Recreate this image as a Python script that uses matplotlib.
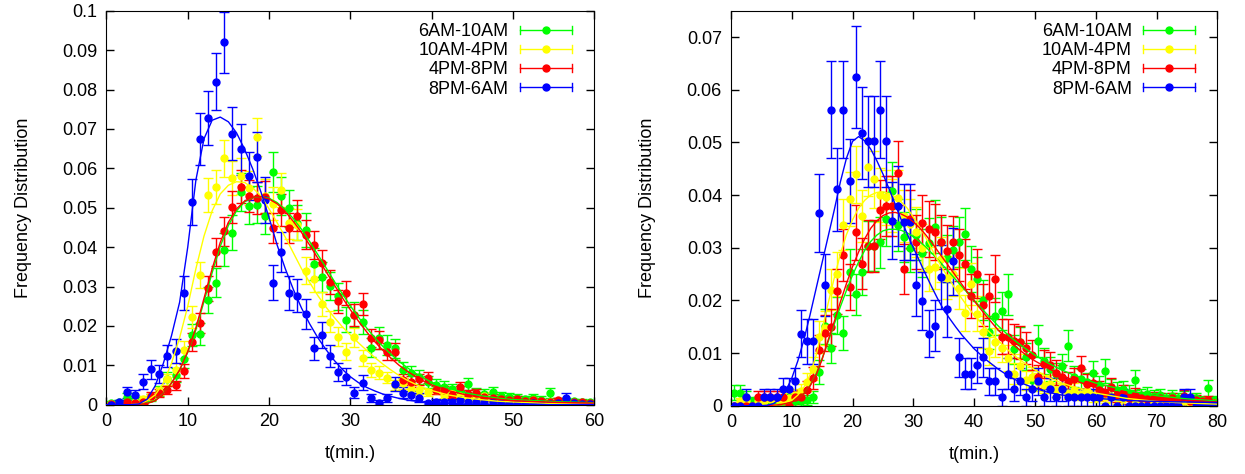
import numpy as np
import matplotlib
matplotlib.use("Agg")
import matplotlib.pyplot as plt
from matplotlib.lines import Line2D
from matplotlib.legend_handler import HandlerBase

# ── Data (all frequencies in units of 1e-4) ──────────────────────────────────
labels = ["6AM-10AM", "10AM-4PM", "4PM-8PM", "8PM-6AM"]
colors = ["#00ff00", "#ffff00", "#ff0000", "#0000ff"]

# left panel: 1-min bins centred on 0.5 ... 59.5
t_left = np.arange(60) + 0.5
green_l = [5, 7, 20, 15, 12, 18, 35, 65, 75, 115, 177, 179, 266, 310, 393, 437, 540, 505, 507, 479,
           591, 530, 499, 462, 443, 357, 325, 301, 275, 216, 228, 210, 145, 169, 151, 143, 89, 80, 70, 58,
           50, 46, 40, 35, 53, 30, 28, 33, 22, 20, 18, 15, 17, 13, 30, 10, 11, 9, 8, 7]
green_l_err = [5, 6, 9, 8, 7, 9, 12, 17, 18, 23, 28, 28, 34, 37, 42, 44, 49, 47, 47, 46,
               51, 48, 47, 45, 44, 40, 38, 36, 35, 31, 32, 30, 25, 27, 26, 25, 20, 19, 18, 16,
               15, 14, 13, 12, 15, 12, 11, 12, 10, 9, 9, 8, 9, 8, 12, 7, 7, 6, 6, 6]
yellow_l = [2, 3, 4, 8, 14, 20, 35, 64, 88, 140, 223, 329, 532, 552, 625, 575, 580, 550, 680, 530,
            510, 545, 460, 457, 340, 319, 256, 211, 173, 135, 171, 118, 88, 81, 69, 50, 55, 40, 38, 31,
            37, 25, 30, 22, 18, 15, 22, 13, 12, 10, 9, 8, 11, 7, 6, 5, 7, 4, 3, 3]
yellow_l_err = [3, 3, 4, 5, 7, 8, 11, 15, 17, 22, 28, 34, 43, 43, 46, 44, 45, 43, 48, 43,
                42, 43, 40, 40, 34, 33, 30, 27, 24, 21, 24, 20, 17, 17, 15, 13, 14, 12, 11, 10,
                11, 9, 10, 9, 8, 7, 9, 7, 6, 6, 6, 5, 6, 5, 5, 4, 5, 4, 3, 3]
red_l = [2, 3, 6, 4, 8, 23, 30, 37, 49, 86, 160, 208, 295, 387, 440, 502, 553, 530, 524, 528,
         448, 494, 448, 480, 431, 405, 359, 312, 263, 283, 228, 255, 170, 164, 135, 135, 63, 58, 65, 69,
         37, 37, 25, 46, 28, 30, 20, 18, 15, 12, 14, 10, 11, 9, 8, 12, 7, 6, 8, 5]
red_l_err = [3, 3, 4, 4, 5, 9, 10, 11, 12, 17, 23, 26, 31, 35, 37, 40, 42, 41, 41, 41,
             38, 40, 38, 39, 37, 36, 34, 31, 29, 30, 27, 28, 23, 23, 21, 21, 14, 14, 14, 15,
             11, 11, 9, 12, 9, 10, 8, 8, 7, 6, 7, 6, 6, 5, 5, 6, 5, 4, 5, 4]
blue_l = [0, 6, 31, 25, 58, 90, 78, 124, 136, 283, 515, 675, 728, 820, 920, 688, 648, 580, 629, 520,
          310, 388, 283, 277, 230, 143, 177, 124, 84, 71, 30, 56, 17, 5, 17, 52, 30, 24, 18, 4,
          8, 6, 7, 12, 7, 8, 5, 6, 4, 3, 3, 3, 4, 2, 3, 5, 18, 4, 3, 2]
blue_l_err = [0, 6, 14, 13, 19, 24, 22, 28, 30, 43, 58, 66, 69, 73, 77, 67, 65, 61, 64, 58,
              45, 50, 43, 42, 39, 30, 34, 28, 23, 21, 14, 19, 10, 6, 10, 18, 14, 12, 11, 5,
              7, 6, 7, 9, 7, 7, 6, 6, 5, 4, 4, 4, 5, 4, 4, 6, 11, 5, 4, 4]

# left panel fitted curves
tc_left = [0, 2, 3, 4, 5, 6, 7, 8, 9, 10, 11, 12, 13, 14, 15, 16, 17, 18, 19, 20, 21, 22, 23, 24,
           25, 26, 27, 28, 29, 30, 31, 32, 33, 34, 35, 36, 37, 38, 39, 40, 42, 44, 46, 48, 50, 55, 60]
green_l_fit = [0, 0, 0, 1, 4, 11, 28, 55, 88, 133, 190, 262, 335, 402, 455, 492, 515, 526, 528, 524,
               513, 495, 472, 445, 414, 381, 348, 314, 282, 251, 222, 195, 170, 148, 128, 110, 94, 80,
               68, 57, 42, 31, 23, 17, 13, 8, 5]
yellow_l_fit = [0, 0, 0, 2, 10, 25, 55, 105, 170, 250, 345, 428, 492, 535, 557, 566, 564, 550, 530, 497,
                462, 425, 385, 345, 310, 277, 248, 222, 198, 177, 157, 138, 120, 103, 88, 74, 62, 52,
                43, 36, 25, 18, 13, 9, 7, 3, 1]
red_l_fit = [0, 0, 0, 1, 3, 10, 27, 55, 88, 135, 195, 270, 345, 412, 463, 497, 517, 527, 528, 522,
             510, 490, 465, 437, 405, 372, 338, 305, 272, 241, 212, 185, 160, 138, 118, 100, 85, 72,
             60, 50, 36, 26, 19, 14, 10, 6, 4]
blue_l_fit = [0, 0, 0, 2, 14, 48, 105, 175, 260, 400, 570, 675, 722, 730, 718, 690, 648, 598, 540, 475,
              405, 345, 292, 245, 205, 170, 140, 113, 90, 71, 56, 44, 35, 27, 21, 16, 12, 9,
              7, 5, 3, 2, 1, 1, 1, 0, 0]

# right panel: 1-min bins centred on 0.5 ... 79.5
t_right = np.arange(80) + 0.5
green_r = [25, 25, 16, 8, 8, 0, 0, 8, 8, 17, 8, 8, 11, 17, 64, 151, 110, 172, 138, 254,
           212, 254, 303, 303, 310, 355, 408, 343, 320, 300, 325, 290, 309, 340, 311, 280, 295, 311, 326, 260,
           240, 200, 139, 170, 180, 212, 107, 120, 93, 49, 123, 85, 70, 60, 75, 114, 55, 50, 45, 63,
           40, 66, 35, 30, 32, 25, 49, 20, 22, 18, 20, 15, 18, 14, 16, 12, 14, 10, 33, 10]
green_r_err = [14, 14, 11, 8, 8, 0, 0, 8, 8, 11, 8, 8, 9, 11, 22, 33, 28, 35, 32, 43,
               39, 43, 47, 47, 48, 51, 55, 50, 48, 47, 49, 46, 47, 50, 48, 45, 46, 48, 49, 44,
               42, 38, 32, 35, 36, 39, 28, 30, 26, 19, 30, 25, 23, 21, 23, 29, 20, 19, 18, 21,
               17, 22, 16, 15, 15, 14, 19, 12, 13, 11, 12, 10, 11, 10, 11, 9, 10, 9, 16, 9]
yellow_r = [0, 8, 8, 0, 8, 8, 12, 12, 10, 15, 20, 28, 45, 70, 130, 147, 220, 250, 344, 392,
            439, 360, 454, 430, 400, 396, 380, 395, 360, 345, 330, 300, 260, 264, 278, 243, 250, 223, 176, 231,
            175, 140, 104, 120, 110, 90, 61, 75, 48, 55, 45, 40, 42, 30, 35, 25, 30, 22, 28, 18,
            20, 16, 18, 14, 12, 14, 10, 12, 8, 10, 8, 8, 10, 6, 8, 6, 8, 5, 6, 5]
yellow_r_err = [0, 7, 7, 0, 7, 7, 9, 9, 8, 10, 12, 14, 17, 22, 30, 32, 39, 41, 48, 51,
                54, 49, 55, 54, 52, 52, 51, 52, 49, 48, 47, 45, 42, 42, 43, 41, 41, 39, 35, 40,
                34, 31, 27, 28, 27, 25, 20, 23, 18, 19, 17, 16, 17, 14, 15, 13, 14, 12, 14, 11,
                12, 10, 11, 10, 9, 10, 8, 9, 7, 8, 7, 7, 8, 6, 7, 6, 7, 6, 6, 6]
red_r = [0, 0, 0, 0, 16, 16, 16, 16, 16, 0, 16, 17, 30, 52, 105, 138, 149, 217, 286, 225,
         329, 270, 303, 303, 372, 380, 380, 442, 260, 355, 311, 346, 336, 330, 311, 294, 310, 286, 269, 208,
         251, 191, 208, 241, 131, 131, 123, 120, 109, 96, 55, 79, 77, 63, 55, 45, 50, 71, 42, 44,
         30, 25, 35, 20, 25, 15, 20, 15, 12, 15, 14, 10, 14, 8, 18, 8, 11, 8, 10, 6]
red_r_err = [0, 0, 0, 0, 12, 12, 12, 12, 12, 0, 12, 12, 16, 21, 30, 34, 35, 43, 49, 44,
             53, 48, 50, 50, 56, 57, 57, 61, 47, 55, 51, 54, 53, 53, 51, 50, 51, 49, 48, 42,
             46, 40, 42, 45, 33, 33, 32, 32, 30, 28, 22, 26, 25, 23, 22, 19, 21, 24, 19, 19,
             16, 15, 17, 13, 15, 11, 13, 11, 10, 11, 11, 9, 11, 8, 12, 8, 10, 8, 9, 7]
blue_r = [0, 0, 16, 0, 0, 16, 16, 16, 31, 31, 46, 137, 122, 122, 366, 229, 562, 411, 562, 426,
          624, 518, 502, 502, 562, 502, 351, 380, 349, 349, 229, 199, 137, 152, 244, 183, 274, 92, 61, 61,
          77, 92, 46, 46, 16, 61, 31, 46, 16, 31, 46, 16, 31, 16, 31, 16, 16, 16, 16, 16,
          16, 0, 16, 0, 16, 0, 0, 0, 0, 0, 0, 0, 0, 0, 16, 16, 0, 0, 0, 0]
blue_r_err = [0, 0, 16, 0, 0, 16, 16, 16, 22, 22, 26, 45, 43, 43, 74, 59, 92, 79, 92, 80,
              97, 88, 87, 87, 92, 87, 73, 76, 72, 72, 59, 55, 45, 48, 61, 52, 64, 37, 30, 30,
              34, 37, 26, 26, 16, 30, 22, 26, 16, 22, 26, 16, 22, 16, 22, 16, 16, 16, 16, 16,
              16, 0, 16, 0, 16, 0, 0, 0, 0, 0, 0, 0, 0, 0, 16, 16, 0, 0, 0, 0]

# right panel fitted curves
tc_right = [0, 4, 5, 6, 7, 8, 9, 10, 11, 12, 13, 14, 15, 16, 17, 18, 19, 20, 21, 22, 23, 24, 25, 26,
            27, 28, 29, 30, 31, 32, 33, 34, 35, 36, 37, 38, 39, 40, 42, 44, 46, 48, 50, 52, 54, 56,
            58, 60, 65, 70, 75, 80]
green_r_fit = [0, 0, 0, 0, 1, 2, 4, 7, 13, 23, 38, 60, 90, 122, 155, 188, 219, 248, 273, 295, 312, 324,
               332, 335, 335, 333, 328, 321, 312, 302, 290, 278, 265, 252, 239, 226, 213, 200, 175, 151,
               130, 112, 96, 82, 70, 60, 51, 43, 29, 19, 13, 9]
yellow_r_fit = [0, 0, 0, 0, 1, 3, 6, 10, 20, 35, 58, 95, 145, 195, 243, 288, 325, 353, 375, 390, 400, 405,
                406, 403, 396, 387, 375, 358, 340, 320, 298, 277, 257, 238, 220, 203, 187, 172, 146, 123,
                101, 83, 68, 55, 45, 37, 30, 24, 14, 8, 5, 3]
red_r_fit = [0, 0, 0, 0, 1, 2, 4, 7, 13, 23, 37, 58, 88, 125, 160, 197, 232, 264, 292, 317, 337, 351,
             361, 366, 367, 364, 358, 349, 338, 325, 310, 294, 278, 262, 246, 230, 214, 199, 170, 143,
             120, 101, 85, 72, 60, 50, 42, 35, 22, 14, 10, 7]
blue_r_fit = [0, 0, 0, 1, 4, 12, 28, 52, 85, 125, 172, 222, 272, 322, 372, 425, 470, 502, 511, 503, 487, 465,
              440, 412, 383, 353, 326, 300, 275, 250, 226, 203, 182, 165, 149, 134, 121, 108, 87, 69,
              54, 42, 33, 26, 21, 18, 16, 14, 10, 8, 7, 6]

UNIT = 1e-4

# ── Style ─────────────────────────────────────────────────────────────────────
plt.rcParams['font.family'] = ['Liberation Sans', 'DejaVu Sans']
plt.rcParams['font.size'] = 13


class HandlerGnuBar(HandlerBase):
    # gnuplot-like key sample: horizontal bar with end caps and a dot in the middle
    def create_artists(self, legend, orig_handle, xdescent, ydescent,
                       width, height, fontsize, trans):
        c = orig_handle.get_color()
        x0, x1 = -xdescent, width - xdescent
        y = height / 2 - ydescent
        cap = height * 0.3
        arts = [
            Line2D([x0, x1], [y, y], color=c, lw=1),
            Line2D([x0, x0], [y - cap, y + cap], color=c, lw=1),
            Line2D([x1, x1], [y - cap, y + cap], color=c, lw=1),
            Line2D([(x0 + x1) / 2], [y], marker='o', ms=5, color=c, ls='none'),
        ]
        for a in arts:
            a.set_transform(trans)
        return arts


def draw_panel(ax, t, series, errs, tc, fits, xmax, ymax, yticks):
    for y, e, c in zip(series, errs, colors):
        ax.errorbar(t, np.array(y) * UNIT, yerr=np.array(e) * UNIT, fmt='o', color=c,
                    ms=5, elinewidth=1, capsize=3.5, capthick=1, zorder=2)
    for f, c in zip(fits, colors):
        ax.plot(tc, np.array(f) * UNIT, color=c, lw=1, zorder=3)
    ax.set_xlim(0, xmax)
    ax.set_ylim(0, ymax)
    ax.set_yticks(yticks)
    ax.set_yticklabels([f"{v:g}" for v in yticks])
    ax.tick_params(direction='in', top=True, right=True, length=6, width=1)
    ax.tick_params(axis='y', pad=6.5)
    ax.tick_params(axis='x', pad=6)
    ax.set_xlabel('t(min.)', labelpad=11)
    ax.set_ylabel('Frequency Distribution', labelpad=22)
    proxies = [Line2D([], [], color=c) for c in colors]
    ax.legend(proxies, labels, loc='upper right', frameon=False, markerfirst=False,
              handler_map={Line2D: HandlerGnuBar()}, handlelength=2.9, handletextpad=0.6,
              labelspacing=0.12, borderaxespad=0, borderpad=0.4,
              bbox_to_anchor=(0.969, 0.987))


fig = plt.figure(figsize=(12.45, 4.74), dpi=100)
ax1 = fig.add_axes([0.0855, 0.1462, 0.3918, 0.8312])
ax2 = fig.add_axes([0.5871, 0.1441, 0.3907, 0.8333])

draw_panel(ax1, t_left, [green_l, yellow_l, red_l, blue_l],
           [green_l_err, yellow_l_err, red_l_err, blue_l_err],
           tc_left, [green_l_fit, yellow_l_fit, red_l_fit, blue_l_fit],
           60, 0.1, np.round(np.arange(0, 0.101, 0.01), 2))
draw_panel(ax2, t_right, [green_r, yellow_r, red_r, blue_r],
           [green_r_err, yellow_r_err, red_r_err, blue_r_err],
           tc_right, [green_r_fit, yellow_r_fit, red_r_fit, blue_r_fit],
           80, 0.075, np.round(np.arange(0, 0.071, 0.01), 2))

fig.savefig("out.png", dpi=100)
